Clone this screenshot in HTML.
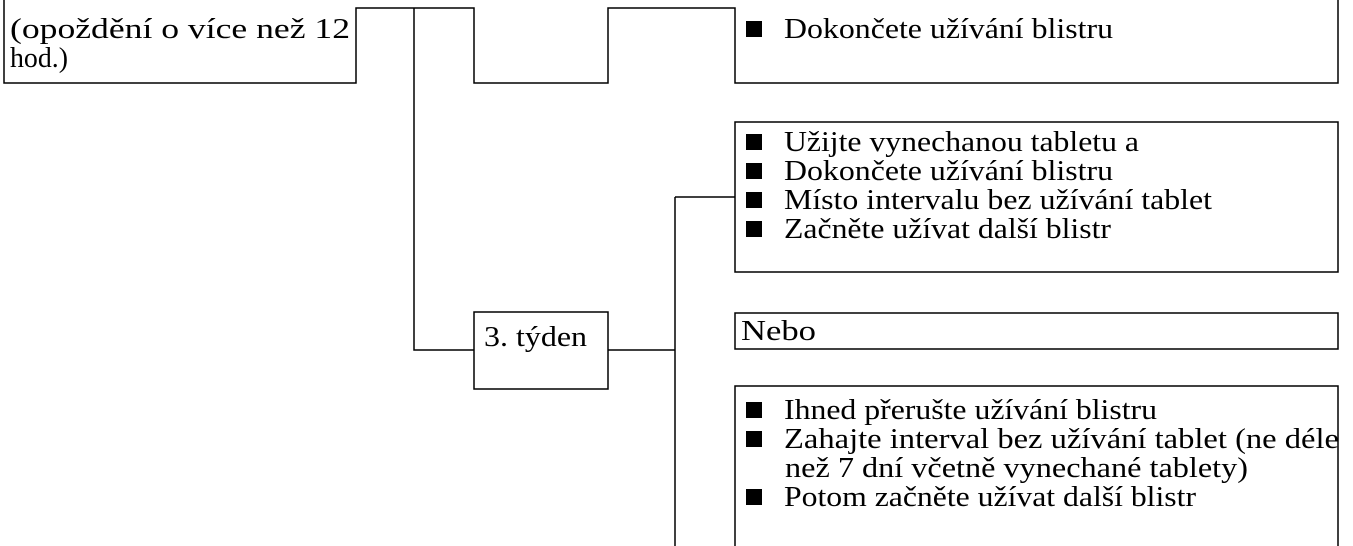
<!DOCTYPE html>
<html><head><meta charset="utf-8"><style>
html,body{margin:0;padding:0;background:#fff;}
svg{display:block;}
text{font-family:"Liberation Serif",serif;font-size:28px;fill:#000;}
</style></head><body>
<svg width="1353" height="546" viewBox="0 0 1353 546" xmlns="http://www.w3.org/2000/svg">
<g stroke="#000" stroke-width="1.5" fill="none">
<polyline points="4,0 4,83 356,83 356,8 474,8 474,83 608,83 608,8 735,8 735,83 1338,83 1338,0"/>
<polyline points="414,8 414,350 474,350"/>
<rect x="474" y="312" width="134" height="77"/>
<line x1="608" y1="350" x2="675" y2="350"/>
<line x1="675" y1="197" x2="675" y2="546"/>
<line x1="675" y1="197" x2="735" y2="197"/>
<rect x="735" y="122" width="603" height="150"/>
<rect x="735" y="313" width="603" height="36"/>
<polyline points="735,546 735,386 1338,386 1338,546"/>
</g>
<g fill="#000">
<rect x="746" y="21" width="16" height="16"/>
<rect x="746" y="134" width="16" height="16"/>
<rect x="746" y="163" width="16" height="16"/>
<rect x="746" y="192" width="16" height="16"/>
<rect x="746" y="221" width="16" height="16"/>
<rect x="746" y="402" width="16" height="16"/>
<rect x="746" y="431" width="16" height="16"/>
<rect x="746" y="489" width="16" height="16"/>
</g>
<text x="10" y="38" textLength="340" lengthAdjust="spacingAndGlyphs">(opoždění o více než 12</text>
<text x="10" y="67" textLength="58" lengthAdjust="spacingAndGlyphs">hod.)</text>
<text x="784" y="38" textLength="329" lengthAdjust="spacingAndGlyphs">Dokončete užívání blistru</text>
<text x="784" y="151" textLength="355" lengthAdjust="spacingAndGlyphs">Užijte vynechanou tabletu a</text>
<text x="784" y="180" textLength="329" lengthAdjust="spacingAndGlyphs">Dokončete užívání blistru</text>
<text x="784" y="209" textLength="428" lengthAdjust="spacingAndGlyphs">Místo intervalu bez užívání tablet</text>
<text x="784" y="238" textLength="327" lengthAdjust="spacingAndGlyphs">Začněte užívat další blistr</text>
<text x="484" y="346" textLength="103" lengthAdjust="spacingAndGlyphs">3. týden</text>
<text x="741" y="340" textLength="75" lengthAdjust="spacingAndGlyphs">Nebo</text>
<text x="784" y="419" textLength="373" lengthAdjust="spacingAndGlyphs">Ihned přerušte užívání blistru</text>
<text x="784" y="448" textLength="555" lengthAdjust="spacingAndGlyphs">Zahajte interval bez užívání tablet (ne déle</text>
<text x="785" y="477" textLength="463" lengthAdjust="spacingAndGlyphs">než 7 dní včetně vynechané tablety)</text>
<text x="784" y="506" textLength="412" lengthAdjust="spacingAndGlyphs">Potom začněte užívat další blistr</text>
</svg>
</body></html>
